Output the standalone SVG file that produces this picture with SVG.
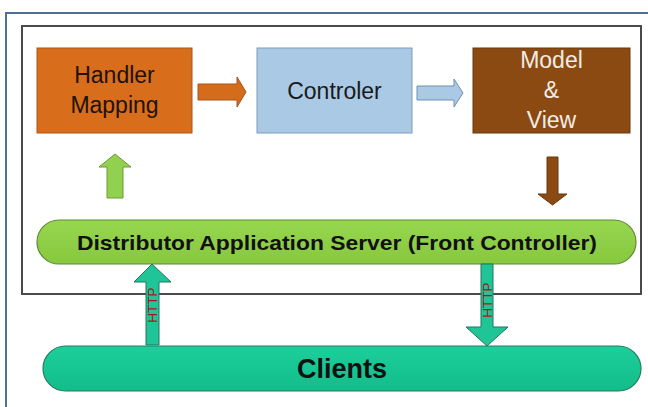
<svg xmlns="http://www.w3.org/2000/svg" width="648" height="407" viewBox="0 0 648 407">
  <defs>
    <linearGradient id="gPill" x1="0" y1="0" x2="0" y2="1">
      <stop offset="0" stop-color="#98d650"/>
      <stop offset="1" stop-color="#86c83e"/>
    </linearGradient>
    <linearGradient id="gClients" x1="0" y1="0" x2="0" y2="1">
      <stop offset="0" stop-color="#1ccf9a"/>
      <stop offset="1" stop-color="#12bd8a"/>
    </linearGradient>
    <style>
      .frame { fill: none; stroke: #4f6f95; stroke-width: 2; }
      .panel { fill: #ffffff; stroke: #4a4a4a; stroke-width: 2; }
      .lbl { font-family: "Liberation Sans", Arial, sans-serif; font-size: 23px; text-anchor: middle; }
      .bold { font-family: "Liberation Sans", Arial, sans-serif; font-weight: bold; text-anchor: middle; fill: #111; }
      .http { font-family: "Liberation Sans", Arial, sans-serif; font-size: 13.5px; fill: #a3161a; text-anchor: middle; }
    </style>
  </defs>

  <rect width="648" height="407" fill="#ffffff"/>

  <!-- outer window frame -->
  <path class="frame" d="M6 407 V13 H648"/>

  <!-- inner panel -->
  <rect class="panel" x="22" y="26" width="619" height="268"/>

  <g id="handler-mapping">
    <rect x="37" y="48" width="155" height="85" fill="#d86e1c" stroke="#a9561a" stroke-width="1"/>
    <text class="lbl" x="114.5" y="83" fill="#1e1208">Handler</text>
    <text class="lbl" x="114.5" y="113" fill="#1e1208">Mapping</text>
  </g>

  <g id="controler">
    <rect x="257" y="48" width="155" height="85" fill="#a9c9e5" stroke="#7d9cbf" stroke-width="1"/>
    <text class="lbl" x="334.5" y="99" fill="#1a1a1a">Controler</text>
  </g>

  <g id="model-view">
    <rect x="473" y="48" width="157" height="85" fill="#8b4a12" stroke="#6a380c" stroke-width="1"/>
    <text class="lbl" x="551.5" y="68" fill="#f4ece4">Model</text>
    <text class="lbl" x="551.5" y="98" fill="#f4ece4">&amp;</text>
    <text class="lbl" x="551.5" y="128" fill="#f4ece4">View</text>
  </g>

  <g id="front-controller">
    <rect x="37" y="220" width="599" height="44" rx="22" ry="22" fill="url(#gPill)" stroke="#5f8a34" stroke-width="1.2"/>
    <text class="bold" x="337" y="250" font-size="20.5" textLength="520" lengthAdjust="spacingAndGlyphs">Distributor Application Server (Front Controller)</text>
  </g>

  <g id="clients">
    <rect x="43" y="346" width="598" height="45" rx="22.5" ry="22.5" fill="url(#gClients)" stroke="#2a7a62" stroke-width="1.2"/>
    <text class="bold" x="342" y="378" font-size="27">Clients</text>
  </g>

  <g id="connectors">
    <!-- Handler Mapping to Controler -->
    <polygon points="198,84 237,84 237,77 246,92 237,107 237,100 198,100" fill="#d46c1c" stroke="#a65518" stroke-width="1"/>
    <!-- Controler to Model & View -->
    <polygon points="417,86 454,86 454,79 463,93 454,107 454,100 417,100" fill="#a9c9e5" stroke="#6f90b6" stroke-width="1"/>
    <!-- Model & View down to front controller -->
    <polygon points="547,157 558,157 558,194 567,194 552.5,205 538,194 547,194" fill="#8b4a12" stroke="#6a380c" stroke-width="1"/>
    <!-- front controller up to Handler Mapping -->
    <polygon points="115,154 131,167 123,167 123,198 107,198 107,167 99,167" fill="#92d050" stroke="#6c9a36" stroke-width="1"/>
    <!-- request: Clients up to front controller -->
    <polygon points="152,264 171,282 159,282 159,345 146,345 146,282 134,282" fill="#1fc497" stroke="#23765c" stroke-width="1"/>
    <text class="http" transform="translate(157 305) rotate(-90)">HTTP</text>
    <!-- response: front controller down to Clients -->
    <polygon points="481,264 493,264 493,327 508,327 487,346 466,327 481,327" fill="#1fc497" stroke="#23765c" stroke-width="1"/>
    <text class="http" transform="translate(492 300) rotate(-90)">HTTP</text>
  </g>
</svg>
